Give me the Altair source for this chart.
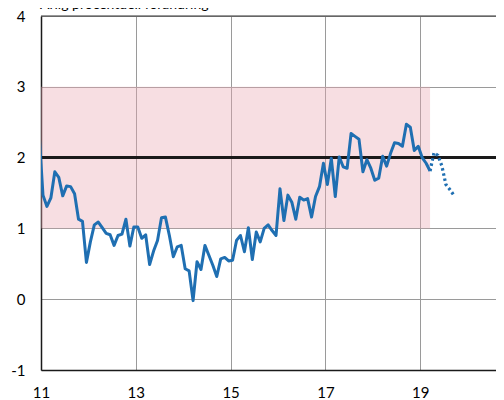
import altair as alt
import pandas as pd

# Outcome: monthly, Dec 2010 .. Mar 2019 (annual % change)
start_year, start_month = 2010, 12
outcome = [2.36, 1.47, 1.31, 1.43, 1.80, 1.72, 1.46, 1.60, 1.59, 1.49,
           1.13, 1.10, 0.52, 0.81, 1.05, 1.09, 1.01, 0.93, 0.91, 0.76,
           0.90, 0.92, 1.13, 0.75, 1.02, 1.02, 0.86, 0.91, 0.49, 0.68,
           0.83, 1.15, 1.16, 0.90, 0.60, 0.74, 0.76, 0.43, 0.40, -0.02,
           0.53, 0.42, 0.76, 0.62, 0.48, 0.32, 0.57, 0.59, 0.54, 0.55,
           0.83, 0.90, 0.67, 1.01, 0.56, 0.95, 0.81, 1.00, 1.05, 0.97,
           0.90, 1.56, 1.11, 1.47, 1.37, 1.13, 1.44, 1.40, 1.42, 1.16,
           1.45, 1.59, 1.92, 1.62, 1.99, 1.45, 2.01, 1.87, 1.85, 2.34,
           2.30, 2.26, 1.80, 1.97, 1.85, 1.68, 1.71, 2.02, 1.88, 2.06,
           2.21, 2.20, 2.16, 2.47, 2.43, 2.10, 2.16, 2.00, 1.92, 1.81]
# Forecast: Mar 2019 .. Sep 2019
forecast = [1.81, 2.07, 2.03, 1.88, 1.62, 1.55, 1.47]

band_low, band_high = 1, 3
target = 2
x_ticks = [2011, 2013, 2015, 2017, 2019]
y_ticks = [-1, 0, 1, 2, 3, 4]
title_text = "Årlig procentuell förändring"


def month_pos(i):
    m = start_month - 1 + i
    y = start_year + m // 12
    mm = m % 12
    return y + (mm + 0.5) / 12.0


df_out = pd.DataFrame({"t": [month_pos(i) for i in range(len(outcome))], "v": outcome})
n0 = len(outcome) - 1
df_fc = pd.DataFrame({"t": [month_pos(n0 + i) for i in range(len(forecast))], "v": forecast})
df_band = pd.DataFrame({"t": [df_out["t"].iloc[0]], "t2": [df_out["t"].iloc[-1]],
                        "lo": [band_low], "hi": [band_high]})

PLOT_W = 455
X_DOMAIN = [2011, 2011 + PLOT_W / 47.4]
xs = alt.Scale(domain=X_DOMAIN, nice=False, zero=False)
ys = alt.Scale(domain=[-1, 4], nice=False)

x_axis = alt.Axis(values=x_ticks, labelExpr="toString(datum.value - 2000)", ticks=False,
                  grid=True, gridColor="#9a9a9a", gridWidth=1, domainColor="#1a1a1a",
                  domainWidth=1.5, labelPadding=15, labelFontSize=15, labelColor="#000",
                  labelFont="Lato", labelFlush=False, title=None)
y_axis = alt.Axis(values=y_ticks, labelExpr="toString(datum.value)", ticks=False, grid=True,
                  gridColor="#9a9a9a", gridWidth=1, domainColor="#1a1a1a", domainWidth=1.5,
                  labelPadding=16, labelFontSize=15, labelColor="#000", labelFont="Lato",
                  labelFlush=False, title=None)

band = alt.Chart(df_band).mark_rect(color="#e9a9b3", opacity=0.38, clip=True).encode(
    x=alt.X("t:Q", scale=xs, axis=x_axis),
    x2="t2:Q",
    y=alt.Y("lo:Q", scale=ys, axis=y_axis),
    y2="hi:Q",
)

target_rule = alt.Chart(pd.DataFrame({"y": [target]})).mark_rule(
    color="#1a1a1a", strokeWidth=3).encode(y=alt.Y("y:Q", scale=ys))

top_rule = alt.Chart(pd.DataFrame({"y": [y_ticks[-1]]})).mark_rule(
    color="#333333", strokeWidth=1.2).encode(y=alt.Y("y:Q", scale=ys))

line = alt.Chart(df_out).mark_line(color="#1f6fb2", strokeWidth=3, clip=True,
                                   strokeJoin="round").encode(
    x=alt.X("t:Q", scale=xs), y=alt.Y("v:Q", scale=ys))

fc_line = alt.Chart(df_fc).mark_line(color="#1f6fb2", strokeWidth=3.2, clip=True,
                                     strokeDash=[2.5, 2.8]).encode(
    x=alt.X("t:Q", scale=xs), y=alt.Y("v:Q", scale=ys))

title = alt.Chart(pd.DataFrame({"s": [title_text]})).mark_text(
    align="left", baseline="alphabetic", font="Lato", fontSize=14, color="#000").encode(
    x=alt.value(-1), y=alt.value(-7), text="s:N")

chart = alt.layer(band, target_rule, top_rule, line, fc_line, title).properties(
    width=PLOT_W, height=354,
    autosize=alt.AutoSizeParams(type="none"),
    padding={"left": 33, "top": 8, "right": 0, "bottom": 30},
).configure_view(stroke=None).configure(background="white")

chart.save("out.html", embed_options={"renderer": "svg", "actions": False})
